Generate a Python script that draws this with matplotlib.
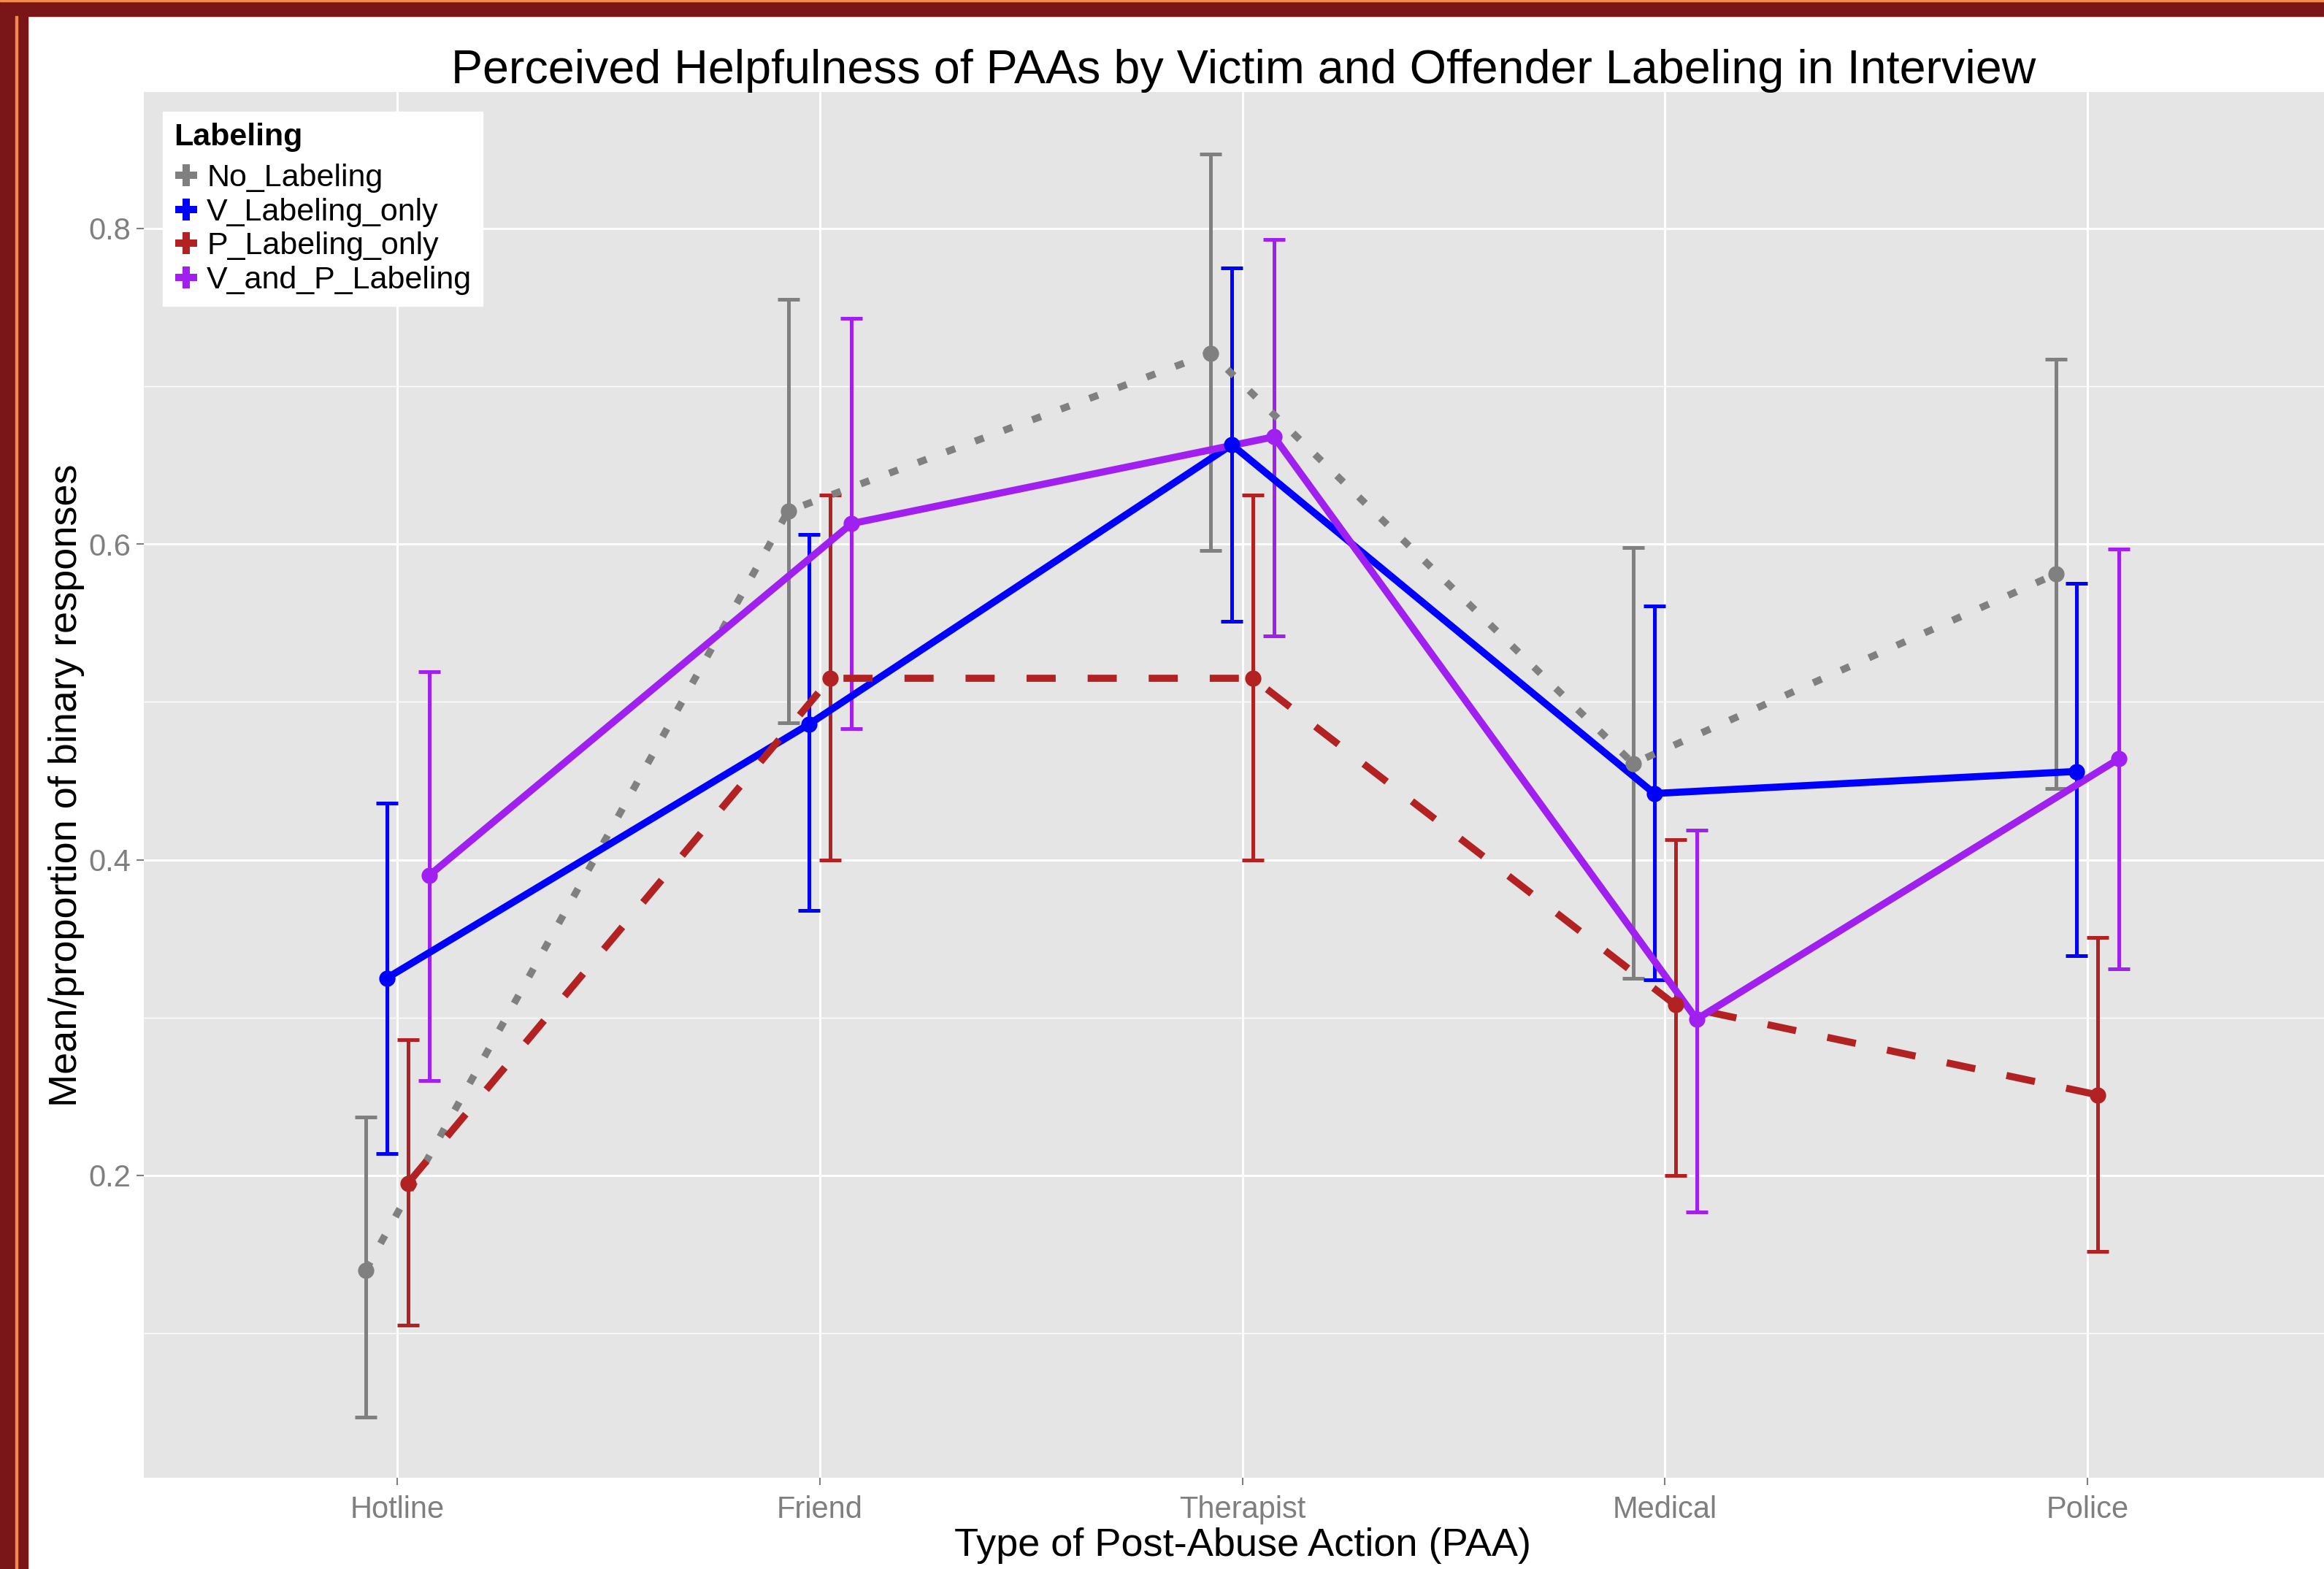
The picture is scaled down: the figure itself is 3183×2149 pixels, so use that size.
import numpy as np
import matplotlib
matplotlib.use("Agg")
import matplotlib.pyplot as plt
from matplotlib.lines import Line2D
from matplotlib.patches import Rectangle

plt.rcParams['font.family'] = ['Liberation Sans', 'DejaVu Sans']

# Daten
paa = ['Hotline', 'Friend', 'Therapist', 'Medical', 'Police']
groups = ['No_Labeling', 'V_Labeling_only', 'P_Labeling_only', 'V_and_P_Labeling']

no_mean = [0.140, 0.621, 0.721, 0.461, 0.581]
no_lo = [0.047, 0.487, 0.596, 0.325, 0.445]
no_hi = [0.237, 0.755, 0.847, 0.598, 0.717]

v_mean = [0.325, 0.486, 0.663, 0.442, 0.456]
v_lo = [0.214, 0.368, 0.551, 0.324, 0.339]
v_hi = [0.436, 0.606, 0.775, 0.561, 0.575]

p_mean = [0.195, 0.515, 0.515, 0.308, 0.251]
p_lo = [0.105, 0.400, 0.400, 0.200, 0.152]
p_hi = [0.286, 0.631, 0.631, 0.413, 0.351]

vp_mean = [0.390, 0.613, 0.668, 0.299, 0.464]
vp_lo = [0.260, 0.483, 0.542, 0.177, 0.331]
vp_hi = [0.519, 0.743, 0.793, 0.419, 0.597]

means = [no_mean, v_mean, p_mean, vp_mean]
lows = [no_lo, v_lo, p_lo, vp_lo]
highs = [no_hi, v_hi, p_hi, vp_hi]

colors = ['#808080', '#0000FF', '#B22222', '#A020F0']
styles = [(0, (1.3, 3.0)), '-', (0, (4.1, 4.5)), '-']

fig = plt.figure(figsize=(31.83, 21.49), dpi=100)
ax = fig.add_axes([0.0619, 0.0582, 1 - 0.0619, 0.9414 - 0.0582])
ax.set_facecolor('#E5E5E5')
for s in ax.spines.values():
    s.set_visible(False)

x = np.arange(1, len(paa) + 1)
offs = (np.arange(len(groups)) - 1.5) * 0.05   # dodge

# Fehlerbalken
for i in range(len(groups)):
    m = np.array(means[i]); lo = np.array(lows[i]); hi = np.array(highs[i])
    ax.errorbar(x + offs[i], m, yerr=[m - lo, hi - m], fmt='none',
                ecolor=colors[i], elinewidth=3.6, capsize=10.5, capthick=3.6,
                zorder=3)
# Linien
for i in range(len(groups)):
    ln, = ax.plot(x + offs[i], means[i], color=colors[i], lw=7,
                  linestyle=styles[i], zorder=4)
    ln.set_dash_capstyle('butt')
# Punkte
for i in range(len(groups)):
    ax.plot(x + offs[i], means[i], 'o', color=colors[i], ms=16, zorder=5,
            markeredgewidth=0)

ax.set_xlim(0.4, 5.56)
ax.set_ylim(0.0085, 0.8865)
ax.set_xticks(x)
ax.set_xticklabels(paa)
ax.set_yticks([0.2, 0.4, 0.6, 0.8])
ax.set_yticks([0.1, 0.3, 0.5, 0.7], minor=True)
ax.grid(which='major', color='white', lw=2.2)
ax.grid(which='minor', axis='y', color='white', lw=1.0)
ax.set_axisbelow(True)
ax.tick_params(which='major', colors='#7F7F7F', labelsize=30, length=7,
               width=1.5)
ax.tick_params(axis='x', pad=10)
ax.tick_params(axis='y', pad=6)
ax.tick_params(which='minor', length=0)

ax.set_xlabel('Type of Post-Abuse Action (PAA)', fontsize=39, va='center')
ax.xaxis.set_label_coords(0.504, -0.049)
ax.set_ylabel('Mean/proportion of binary responses', fontsize=39, va='center')
ax.yaxis.set_label_coords(-0.0355, 0.4995)
fig.text(0.535, 0.955,
         'Perceived Helpfulness of PAAs by Victim and Offender Labeling in Interview',
         fontsize=46.5, ha='center', va='center')

handles = [Line2D([], [], marker='P', color=c, ls='none', ms=21, mew=0)
           for c in colors]
leg = ax.legend(handles, groups, title='Labeling', loc='upper left',
                bbox_to_anchor=(0.0087, 0.986), fontsize=31,
                title_fontproperties={'weight': 'bold', 'size': 31},
                frameon=True, fancybox=False, edgecolor='white',
                framealpha=1, handlelength=0.8, handletextpad=0.25,
                labelspacing=0.15, borderpad=0.35, borderaxespad=0)
leg._legend_box.align = 'left'
leg._legend_box.sep = 12

# Rahmen (Screenshot-Rand)
fig.add_artist(Rectangle((0, 0), 38 / 3183, 1, transform=fig.transFigure,
                         color='#7A1518', zorder=10))
fig.add_artist(Rectangle((0, 1 - 22 / 2149), 1, 22 / 2149,
                         transform=fig.transFigure, color='#7A1518', zorder=10))
fig.add_artist(Rectangle((21 / 3183, 0), 2.5 / 3183, 1 - 22 / 2149,
                         transform=fig.transFigure, color='#F08A50', zorder=11))
fig.add_artist(Rectangle((0, 1 - 2 / 2149), 1, 2 / 2149,
                         transform=fig.transFigure, color='#F08A50', zorder=11))

fig.savefig('out.png', dpi=100)
